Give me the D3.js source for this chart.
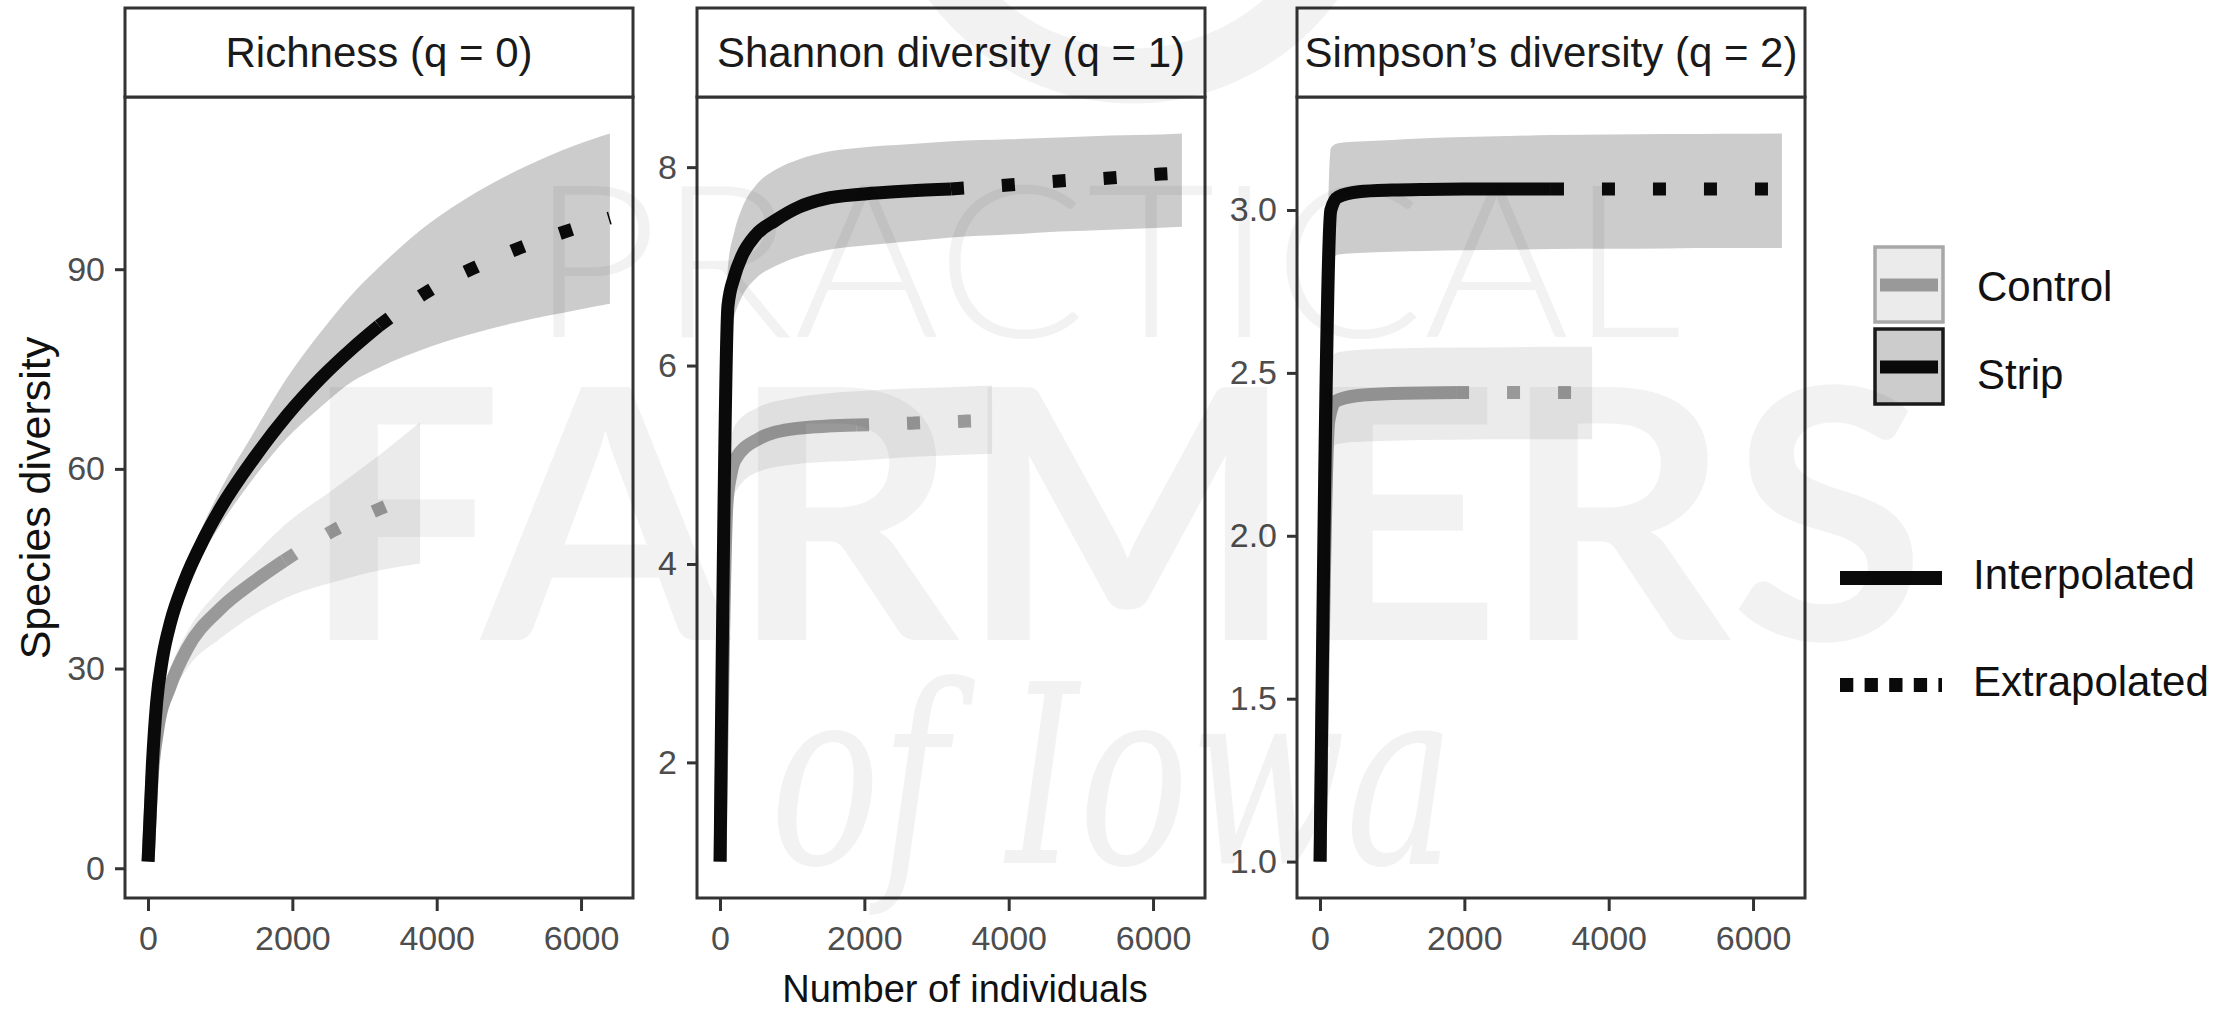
<!DOCTYPE html>
<meta charset="utf-8">
<style>
body { margin: 0; background: #fff; }
svg { display: block; font-family: "Liberation Sans", Arial, Helvetica, sans-serif; }
.axis path { display: none; }
.axis line { stroke: #333; stroke-width: 3px; }
.axis text { fill: #4d4d4d; font-size: 34px; }
.frame { fill: none; stroke: #333; stroke-width: 3px; }
.strip rect { fill: #fff; stroke: #333; stroke-width: 3px; }
.strip text { font-size: 42px; fill: #1a1a1a; text-anchor: middle; }
.interp, .extrap { fill: none; stroke-width: 13px; }
.extrap { stroke-dasharray: 13 38; }
.title { font-size: 40px; fill: #111; }
.legend text { font-size: 42px; fill: #111; }
.mark text { fill: #000; fill-opacity: 0.05; }
</style>
<svg width="2237" height="1009"></svg>
<script src="https://d3js.org/d3.v7.min.js"></script>
<script>

// ---- data ----
var groups = ["Control", "Strip"];
var panelTitles = ["Richness (q = 0)", "Shannon diversity (q = 1)", "Simpson\u2019s diversity (q = 2)"];
var xTicks = [0, 2000, 4000, 6000];
var yTicks0 = [0, 30, 60, 90];
var yTicks1 = [2, 4, 6, 8];
var yTicks2 = [1, 1.5, 2, 2.5, 3];
var controlRef = 1885;   // reference sample size, interpolated up to here
var stripRef = 3200;

// q = 0
var q0CtrlM    = [1, 60, 130, 313, 543, 1003, 1462, 1885, 2579, 3232, 3770];
var q0CtrlEst  = [1, 14, 20.5, 27.5, 33, 39, 43, 46.2, 50.8, 54.1, 56.5];
var q0CtrlLo   = [1, 13, 19, 25.5, 30, 34.5, 38, 40.5, 43, 44.8, 45.8];
var q0CtrlHi   = [1, 15, 22, 30, 35.5, 42, 47, 51.5, 57, 62.3, 67];
var q0StripM   = [1, 60, 120, 200, 313, 500, 773, 1000, 1462, 1922, 2382, 2841, 3200, 3899, 4556, 5222, 5912, 6400];
var q0StripEst = [1, 15.5, 25, 31.5, 37, 43, 49.5, 54, 61.5, 68, 73.5, 78.2, 81.5, 86.8, 90.4, 93.5, 96.1, 97.7];
var q0StripLo  = [1, 15, 24.2, 30.5, 35.8, 41.5, 47.5, 51.5, 58.6, 64.6, 69.2, 73.2, 75.2, 78.3, 80.5, 82.3, 83.8, 84.8];
var q0StripHi  = [1, 16, 25.8, 32.5, 38.3, 44.6, 51.8, 56.8, 65.4, 73.6, 80.4, 86.4, 90.3, 96.9, 101.6, 105.4, 108.6, 110.4];

// q = 1
var q1CtrlM    = [1, 95, 150, 209, 531, 990, 1500, 1885, 2687, 3399, 3770];
var q1CtrlEst  = [1, 4.6, 4.9, 5.05, 5.26, 5.36, 5.39, 5.4, 5.42, 5.44, 5.45];
var q1CtrlLo   = [1, 4.3, 4.58, 4.72, 4.93, 5, 5.03, 5.04, 5.08, 5.1, 5.11];
var q1CtrlHi   = [1, 4.9, 5.25, 5.4, 5.58, 5.67, 5.72, 5.74, 5.77, 5.79, 5.8];
var q1StripM   = [1, 110, 200, 301, 500, 760, 1100, 1448, 2000, 2600, 3200, 3995, 4697, 5404, 6106, 6400];
var q1StripEst = [1, 6.6, 6.9, 7.1, 7.32, 7.46, 7.6, 7.68, 7.73, 7.76, 7.78, 7.82, 7.86, 7.89, 7.93, 7.94];
var q1StripLo  = [1, 6.2, 6.5, 6.69, 6.88, 7, 7.1, 7.16, 7.21, 7.25, 7.29, 7.32, 7.35, 7.37, 7.39, 7.4];
var q1StripHi  = [1, 7, 7.35, 7.58, 7.82, 7.97, 8.08, 8.15, 8.2, 8.23, 8.26, 8.28, 8.3, 8.32, 8.33, 8.34];

// q = 2
var q2CtrlM    = [1, 120, 215, 500, 1000, 1885, 2684, 3381, 3770];
var q2CtrlEst  = [1, 2.35, 2.413, 2.43, 2.437, 2.44, 2.44, 2.44, 2.44];
var q2CtrlLo   = [1, 2.22, 2.28, 2.288, 2.292, 2.295, 2.296, 2.296, 2.296];
var q2CtrlHi   = [1, 2.5, 2.561, 2.57, 2.575, 2.578, 2.579, 2.58, 2.58];
var q2StripM   = [1, 150, 250, 537, 1000, 1454, 2000, 2600, 3200, 4000, 4800, 5600, 6400];
var q2StripEst = [1, 3, 3.04, 3.056, 3.061, 3.063, 3.064, 3.064, 3.064, 3.064, 3.064, 3.064, 3.064];
var q2StripLo  = [1, 2.84, 2.863, 2.868, 2.872, 2.874, 2.876, 2.878, 2.88, 2.881, 2.882, 2.883, 2.883];
var q2StripHi  = [1, 3.19, 3.205, 3.21, 3.215, 3.22, 3.224, 3.227, 3.23, 3.232, 3.233, 3.234, 3.235];

// ---- layout ----
var svg = d3.select("svg");
var panelLeft = [125, 697, 1297], panelW = 508;
var stripTop = 8, plotTop = 97, plotBottom = 898;
var lineColor = { Control: "#999999", Strip: "#0a0a0a" };
var ribbonOpacity = { Control: 0.08, Strip: 0.2 };

function series(group, m, est, lo, hi, ref) {
  return { group: group, ref: ref, pts: m.map(function(d, i) {
    return { m: d, est: est[i], lo: lo[i], hi: hi[i] };
  }) };
}

var panels = [
  { ticks: yTicks0, fmt: d3.format("d"),
    series: [series("Control", q0CtrlM, q0CtrlEst, q0CtrlLo, q0CtrlHi, controlRef),
             series("Strip", q0StripM, q0StripEst, q0StripLo, q0StripHi, stripRef)] },
  { ticks: yTicks1, fmt: d3.format("d"),
    series: [series("Control", q1CtrlM, q1CtrlEst, q1CtrlLo, q1CtrlHi, controlRef),
             series("Strip", q1StripM, q1StripEst, q1StripLo, q1StripHi, stripRef)] },
  { ticks: yTicks2, fmt: d3.format(".1f"),
    series: [series("Control", q2CtrlM, q2CtrlEst, q2CtrlLo, q2CtrlHi, controlRef),
             series("Strip", q2StripM, q2StripEst, q2StripLo, q2StripHi, stripRef)] }
];

// ggplot style 5% expansion
function expand(ext) {
  var pad = (ext[1] - ext[0]) * 0.05;
  return [ext[0] - pad, ext[1] + pad];
}

var allM = d3.merge(panels.map(function(p) { return d3.merge(p.series.map(function(s) { return s.pts.map(function(d) { return d.m; }); })); }));
var xDomain = expand(d3.extent(allM));

panels.forEach(function(p, k) {
  var x0 = panelLeft[k], x1 = x0 + panelW;
  var x = d3.scaleLinear().domain(xDomain).range([x0, x1]);
  var pts = d3.merge(p.series.map(function(s) { return s.pts; }));
  var y = d3.scaleLinear()
    .domain(expand([d3.min(pts, function(d) { return d.lo; }), d3.max(pts, function(d) { return d.hi; })]))
    .range([plotBottom, plotTop]);

  var g = svg.append("g");

  g.append("defs").append("clipPath").attr("id", "clip" + k)
    .append("rect").attr("x", x0).attr("y", plotTop).attr("width", panelW).attr("height", plotBottom - plotTop);

  var body = g.append("g").attr("clip-path", "url(#clip" + k + ")");

  var area = d3.area().curve(d3.curveMonotoneX)
    .x(function(d) { return x(d.m); })
    .y0(function(d) { return y(d.lo); })
    .y1(function(d) { return y(d.hi); });

  var line = d3.line().curve(d3.curveMonotoneX)
    .x(function(d) { return x(d.m); })
    .y(function(d) { return y(d.est); });

  p.series.forEach(function(s) {
    body.append("path").datum(s.pts)
      .attr("d", area)
      .attr("fill", "#000")
      .attr("fill-opacity", ribbonOpacity[s.group]);
  });

  p.series.forEach(function(s) {
    body.append("path").datum(s.pts.filter(function(d) { return d.m <= s.ref; }))
      .attr("class", "interp").attr("d", line).attr("stroke", lineColor[s.group]);
    body.append("path").datum(s.pts.filter(function(d) { return d.m >= s.ref; }))
      .attr("class", "extrap").attr("d", line).attr("stroke", lineColor[s.group]);
  });

  g.append("rect").attr("class", "frame")
    .attr("x", x0).attr("y", plotTop).attr("width", panelW).attr("height", plotBottom - plotTop);

  var strip = g.append("g").attr("class", "strip");
  strip.append("rect").attr("x", x0).attr("y", stripTop).attr("width", panelW).attr("height", plotTop - stripTop);
  strip.append("text").attr("x", (x0 + x1) / 2).attr("y", 66.5).text(panelTitles[k]);

  g.append("g").attr("class", "axis")
    .attr("transform", "translate(" + x0 + ",0)")
    .call(d3.axisLeft(y).tickValues(p.ticks).tickFormat(p.fmt).tickSize(10).tickPadding(10));

  g.append("g").attr("class", "axis")
    .attr("transform", "translate(0," + plotBottom + ")")
    .call(d3.axisBottom(x).tickValues(xTicks).tickFormat(d3.format("d")).tickSize(13).tickPadding(15));
});

// axis titles
svg.append("text").attr("class", "title")
  .attr("x", 965).attr("y", 1002).attr("text-anchor", "middle")
  .style("font-size", "38px")
  .text("Number of individuals");

svg.append("text").attr("class", "title")
  .attr("transform", "translate(50,498) rotate(-90)")
  .attr("text-anchor", "middle")
  .style("font-size", "43px")
  .text("Species diversity");

// legend
var legend = svg.append("g").attr("class", "legend");
var keyFill = { Control: 0.08, Strip: 0.2 };
var keyStroke = { Control: "#a8a8a8", Strip: "#1a1a1a" };
var keyTop = [247, 329];
var keyLabelY = [301, 389];

groups.forEach(function(grp, i) {
  legend.append("rect")
    .attr("x", 1875).attr("y", keyTop[i]).attr("width", 68).attr("height", 75)
    .attr("fill", d3.interpolateRgb("#fff", "#000")(keyFill[grp]))
    .attr("stroke", keyStroke[grp]).attr("stroke-width", 3.5);
  legend.append("line")
    .attr("x1", 1880).attr("x2", 1938)
    .attr("y1", keyTop[i] + 38).attr("y2", keyTop[i] + 38)
    .attr("stroke", lineColor[grp]).attr("stroke-width", 13);
  legend.append("text").attr("x", 1977).attr("y", keyLabelY[i]).text(grp);
});

var methods = ["Interpolated", "Extrapolated"];
var methodY = [578, 685];
methods.forEach(function(mt, i) {
  legend.append("line")
    .attr("x1", 1840).attr("x2", 1942)
    .attr("y1", methodY[i]).attr("y2", methodY[i])
    .attr("stroke", "#0a0a0a").attr("stroke-width", 14)
    .attr("stroke-dasharray", i ? "13.3 11.3" : null);
  legend.append("text").attr("x", 1973).attr("y", methodY[i] + 11).text(mt);
});

// faint watermark over the figure
var mark = svg.append("g").attr("class", "mark").style("pointer-events", "none");
mark.append("circle")
  .attr("cx", 1133).attr("cy", -150).attr("r", 226)
  .attr("fill", "none").attr("stroke", "#000").attr("stroke-opacity", 0.05).attr("stroke-width", 55);
mark.append("text")
  .attr("x", 530).attr("y", 337)
  .attr("textLength", 1152).attr("lengthAdjust", "spacingAndGlyphs")
  .style("font-family", "Lato, 'Open Sans', sans-serif").style("font-weight", 300)
  .style("font-size", "214px")
  .text("PRACTICAL");
mark.append("text")
  .attr("x", 301).attr("y", 640)
  .attr("textLength", 1625).attr("lengthAdjust", "spacingAndGlyphs")
  .style("font-family", "Lato, 'Open Sans', sans-serif").style("font-weight", 700)
  .style("font-size", "350px")
  .text("FARMERS");
mark.append("text")
  .attr("x", 770).attr("y", 863)
  .attr("textLength", 685).attr("lengthAdjust", "spacingAndGlyphs")
  .style("font-family", "'DejaVu Serif', serif").style("font-style", "italic")
  .style("font-size", "250px")
  .text("of Iowa");

</script>
